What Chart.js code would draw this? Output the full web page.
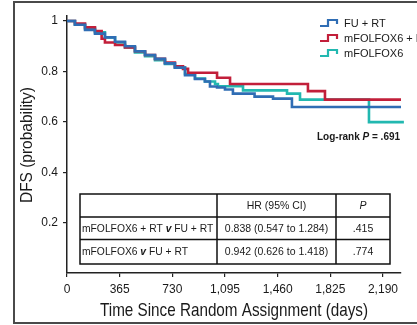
<!DOCTYPE html>
<html><head><meta charset="utf-8">
<script src="https://cdn.jsdelivr.net/npm/chart.js@4.4.0/dist/chart.umd.min.js"></script>
<style>html,body{margin:0;padding:0;background:#fff;overflow:hidden}#wrap{width:417px;height:325px;position:relative}</style>
</head><body><div id="wrap"><canvas id="c" width="417" height="325"></canvas></div>
<script>
// ---- data ----
const seriesNames = ["FU + RT", "mFOLFOX6 + RT", "mFOLFOX6"];
const seriesColors = ["#2f6db4", "#c21f3a", "#22b8b0"];

const fuRtDays = [0, 55, 125, 194, 263, 333, 402, 471, 541, 610, 679, 748, 818, 887, 956, 991, 1040, 1095, 1150, 1300, 1428, 1559, 2315];
const fuRtSurv = [1, 0.985, 0.965, 0.95, 0.935, 0.918, 0.9, 0.88, 0.865, 0.85, 0.832, 0.815, 0.785, 0.77, 0.76, 0.74, 0.736, 0.728, 0.712, 0.70, 0.692, 0.659, 0.659];

const foxRtDays = [0, 55, 125, 194, 240, 263, 333, 402, 471, 541, 610, 679, 748, 804, 839, 1040, 1130, 1670, 1788, 2315];
const foxRtSurv = [1, 0.99, 0.975, 0.96, 0.93, 0.915, 0.905, 0.895, 0.88, 0.865, 0.85, 0.835, 0.82, 0.81, 0.795, 0.775, 0.75, 0.722, 0.688, 0.688];

const foxDays = [0, 55, 125, 194, 263, 333, 402, 471, 541, 610, 679, 748, 818, 887, 956, 1026, 1046, 1220, 1525, 1615, 2093, 2335];
const foxSurv = [1, 0.985, 0.97, 0.955, 0.935, 0.915, 0.895, 0.875, 0.86, 0.845, 0.83, 0.815, 0.79, 0.772, 0.76, 0.75, 0.741, 0.725, 0.712, 0.688, 0.599, 0.599];

const xTickValues = [0, 365, 730, 1095, 1460, 1825, 2190];
const xTickLabels = ["0", "365", "730", "1,095", "1,460", "1,825", "2,190"];
const yTickValues = [0.2, 0.4, 0.6, 0.8, 1];
const yTickLabels = ["0.2", "0.4", "0.6", "0.8", "1"];

const xTitle = "Time Since Random Assignment (days)";
const yTitle = "DFS (probability)";
const tableHeader = ["", "HR (95% CI)", "P"];
const tableComparisons = [["mFOLFOX6 + RT", "FU + RT"], ["mFOLFOX6", "FU + RT"]];
const tableHR = ["0.838 (0.547 to 1.284)", "0.942 (0.626 to 1.418)"];
const tableP = [".415", ".774"];
const logRankP = ".691";

// ---- build ----
const toPts = (d, s) => d.map((v, i) => ({x: v, y: s[i]}));
const allSeries = [toPts(fuRtDays, fuRtSurv), toPts(foxRtDays, foxRtSurv), toPts(foxDays, foxSurv)];

const SANS = '"Liberation Sans", Arial, sans-serif';
const INK = '#1a1a1a';

function condensedText(ctx, text, cx, cy, fontPx, targetW, rot) {
  ctx.save();
  ctx.font = fontPx + 'px ' + SANS;
  const w = ctx.measureText(text).width;
  ctx.translate(cx, cy);
  if (rot) ctx.rotate(rot);
  ctx.scale(targetW / w, 1);
  ctx.textAlign = 'center'; ctx.textBaseline = 'middle';
  ctx.fillText(text, 0, 0);
  ctx.restore();
}

const decor = {
  id: 'decor',
  afterDraw(chart) {
    const ctx = chart.ctx;
    ctx.save();
    // outer frame
    ctx.strokeStyle = '#4a4a4a'; ctx.lineWidth = 2;
    ctx.strokeRect(14, 2, 440, 321);

    // axis titles (condensed face)
    ctx.fillStyle = INK;
    condensedText(ctx, yTitle, 27, 145, 17, 116, -Math.PI / 2);
    condensedText(ctx, xTitle, 234, 311, 18.5, 268, 0);

    // legend
    ctx.textAlign = 'left'; ctx.textBaseline = 'middle';
    ctx.font = '11px ' + SANS;
    const ly = [23, 38, 53];
    seriesNames.forEach((n, i) => {
      const y = ly[i];
      ctx.strokeStyle = seriesColors[i]; ctx.lineWidth = 2.2;
      ctx.beginPath();
      ctx.moveTo(320, y + 3); ctx.lineTo(328, y + 3); ctx.lineTo(328, y - 3); ctx.lineTo(337, y - 3); ctx.lineTo(337, y + 1);
      ctx.stroke();
      ctx.fillStyle = INK;
      ctx.fillText(n, 344, y + 1);
    });

    // log-rank
    let x = 317; const yl = 137;
    ctx.font = 'bold 10px ' + SANS; ctx.fillText('Log-rank ', x, yl); x += ctx.measureText('Log-rank ').width;
    ctx.font = 'italic bold 10px ' + SANS; ctx.fillText('P', x, yl); x += ctx.measureText('P').width;
    ctx.font = 'bold 10px ' + SANS; ctx.fillText(' = ' + logRankP, x, yl);

    // table
    const cx = [80, 217, 336, 390], ry = [194, 217, 239.5, 264];
    ctx.fillStyle = '#fff'; ctx.fillRect(cx[0], ry[0], cx[3] - cx[0], ry[3] - ry[0]);
    ctx.strokeStyle = '#111'; ctx.lineWidth = 1.5;
    ctx.strokeRect(cx[0], ry[0], cx[3] - cx[0], ry[3] - ry[0]);
    ctx.beginPath();
    [ry[1], ry[2]].forEach(y => { ctx.moveTo(cx[0], y); ctx.lineTo(cx[3], y); });
    [cx[1], cx[2]].forEach(xx => { ctx.moveTo(xx, ry[0]); ctx.lineTo(xx, ry[3]); });
    ctx.stroke();
    ctx.fillStyle = INK;
    ctx.textAlign = 'center';
    ctx.font = '10.5px ' + SANS; ctx.fillText(tableHeader[1], (cx[1] + cx[2]) / 2, (ry[0] + ry[1]) / 2 + 0.5);
    ctx.font = 'italic 10.5px ' + SANS; ctx.fillText(tableHeader[2], (cx[2] + cx[3]) / 2, (ry[0] + ry[1]) / 2 + 0.5);
    tableComparisons.forEach((c, i) => {
      const y = (ry[i + 1] + ry[i + 2]) / 2 + 0.5;
      ctx.textAlign = 'left';
      let xx = 82;
      ctx.font = '10.3px ' + SANS; ctx.fillText(c[0] + ' ', xx, y); xx += ctx.measureText(c[0] + ' ').width;
      ctx.font = 'italic bold 10.3px ' + SANS; ctx.fillText('v', xx, y); xx += ctx.measureText('v').width;
      ctx.font = '10.3px ' + SANS; ctx.fillText(' ' + c[1], xx, y);
      ctx.textAlign = 'center';
      ctx.font = '10.5px ' + SANS;
      ctx.fillText(tableHR[i], (cx[1] + cx[2]) / 2, y);
      ctx.fillText(tableP[i], (cx[2] + cx[3]) / 2, y);
    });
    ctx.restore();
  }
};

new Chart(document.getElementById('c'), {
  type: 'line',
  data: {
    datasets: allSeries.map((pts, i) => ({
      label: seriesNames[i], data: pts, borderColor: seriesColors[i], backgroundColor: seriesColors[i],
      borderWidth: 2.6, pointRadius: 0, stepped: 'before', fill: false, clip: false
    }))
  },
  options: {
    responsive: false, animation: false, devicePixelRatio: 1,
    layout: {padding: {top: 16, right: 16, left: 0, bottom: 0}},
    plugins: {legend: {display: false}, tooltip: {enabled: false}},
    scales: {
      x: {
        type: 'linear', min: 0, max: 2315,
        afterBuildTicks: s => { s.ticks = xTickValues.map(v => ({value: v})); },
        afterFit: s => { s.height = 52; },
        ticks: {callback: v => xTickLabels[xTickValues.indexOf(v)], font: {family: SANS, size: 12}, color: INK, padding: 5, maxRotation: 0, autoSkip: false},
        grid: {drawOnChartArea: false, drawTicks: true, tickLength: 4, color: '#222', lineWidth: 1.2},
        border: {display: true, color: '#222', width: 1.5}
      },
      y: {
        type: 'linear', min: 0, max: 1.02,
        afterBuildTicks: s => { s.ticks = yTickValues.map(v => ({value: v})); },
        afterFit: s => { s.width = 67; },
        ticks: {callback: v => yTickLabels[yTickValues.indexOf(v)], font: {family: SANS, size: 12}, color: INK, padding: 5},
        grid: {drawOnChartArea: false, drawTicks: true, tickLength: 4, color: '#222', lineWidth: 1.2},
        border: {display: true, color: '#222', width: 1.5}
      }
    }
  },
  plugins: [decor]
});
</script>
</body></html>
